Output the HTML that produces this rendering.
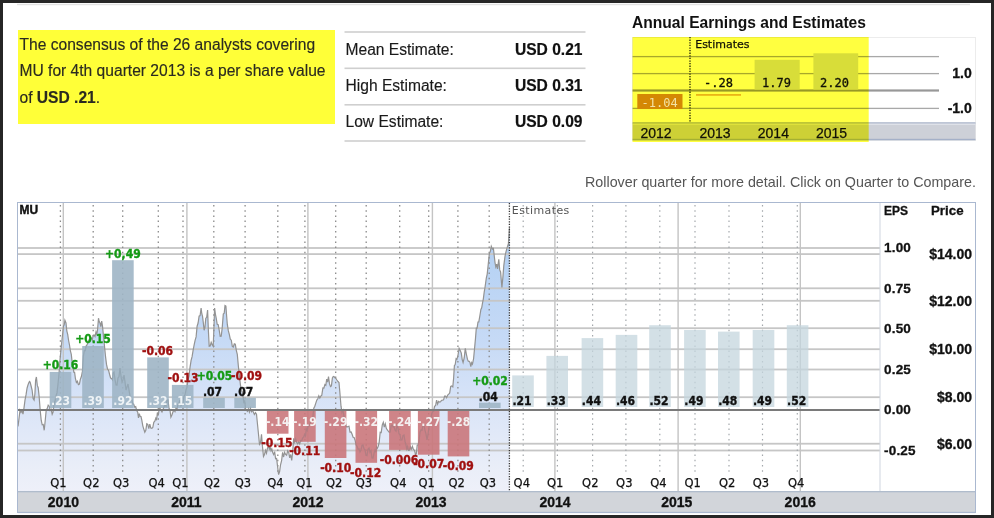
<!DOCTYPE html>
<html><head><meta charset="utf-8"><title>MU Earnings</title>
<style>html,body{margin:0;padding:0;background:#262626;} svg{display:block;}</style></head>
<body><svg width="994" height="518" viewBox="0 0 994 518">
<rect x="0" y="0" width="994" height="518" fill="#262626"/>
<rect x="3" y="3" width="988" height="512" fill="#ffffff"/>
<rect x="17" y="3.8" width="953" height="1.4" fill="#e2e2e2"/>
<rect x="18" y="30" width="317" height="94" fill="#ffff38"/>
<text x="19.5" y="49.8" font-family="'Liberation Sans', sans-serif" font-size="15.6" fill="#2a2a20" stroke="#2a2a20" stroke-width="0.15">The consensus of the 26 analysts covering</text>
<text x="19.5" y="75.5" font-family="'Liberation Sans', sans-serif" font-size="15.6" fill="#2a2a20" stroke="#2a2a20" stroke-width="0.15">MU for 4th quarter 2013 is a per share value</text>
<text x="19.5" y="102.5" font-family="'Liberation Sans', sans-serif" font-size="15.6" fill="#2a2a20" stroke="#2a2a20" stroke-width="0.15">of <tspan font-weight="bold">USD .21</tspan>.</text>
<rect x="344.5" y="31.2" width="241" height="1.6" fill="#cfcfcf"/>
<rect x="344.5" y="67.5" width="241" height="1.6" fill="#cfcfcf"/>
<rect x="344.5" y="104" width="241" height="1.6" fill="#cfcfcf"/>
<rect x="344.5" y="140.2" width="241" height="1.6" fill="#cfcfcf"/>
<text x="345.5" y="55" font-family="'Liberation Sans', sans-serif" font-size="15.6" fill="#1a1a1a" stroke="#1a1a1a" stroke-width="0.15">Mean Estimate:</text>
<text x="582.5" y="55" font-family="'Liberation Sans', sans-serif" font-size="15.6" font-weight="bold" fill="#111" stroke="#111" stroke-width="0.2" text-anchor="end">USD 0.21</text>
<text x="345.5" y="91" font-family="'Liberation Sans', sans-serif" font-size="15.6" fill="#1a1a1a" stroke="#1a1a1a" stroke-width="0.15">High Estimate:</text>
<text x="582.5" y="91" font-family="'Liberation Sans', sans-serif" font-size="15.6" font-weight="bold" fill="#111" stroke="#111" stroke-width="0.2" text-anchor="end">USD 0.31</text>
<text x="345.5" y="127" font-family="'Liberation Sans', sans-serif" font-size="15.6" fill="#1a1a1a" stroke="#1a1a1a" stroke-width="0.15">Low Estimate:</text>
<text x="582.5" y="127" font-family="'Liberation Sans', sans-serif" font-size="15.6" font-weight="bold" fill="#111" stroke="#111" stroke-width="0.2" text-anchor="end">USD 0.09</text>
<text x="632" y="27.6" font-family="'Liberation Sans', sans-serif" font-size="15.6" font-weight="bold" fill="#111" text-anchor="start" >Annual Earnings and Estimates</text>
<rect x="632.5" y="37.5" width="343" height="103" fill="none" stroke="#ececec" stroke-width="1"/>
<rect x="632.5" y="55.95" width="306.5" height="1.3" fill="#a8a8a8"/>
<rect x="632.5" y="72.94999999999999" width="306.5" height="1.3" fill="#a8a8a8"/>
<rect x="632.5" y="89.4" width="306.5" height="2.2" fill="#989898"/>
<rect x="632.5" y="107.75" width="306.5" height="1.3" fill="#a8a8a8"/>
<rect x="754.6" y="59.8" width="45.1" height="29.8" fill="#d8dde2"/>
<rect x="813.4" y="53.3" width="44.8" height="36.3" fill="#d8dde2"/>
<rect x="696" y="94" width="45" height="1.8" fill="#eab458"/>
<rect x="637.3" y="94" width="45.2" height="15" fill="#d4880e"/>
<text x="704" y="87.3" font-family="'DejaVu Sans Mono', monospace" font-size="12" stroke-width="0.3" fill="#111" stroke="#111">-.28</text>
<text x="762" y="86.8" font-family="'DejaVu Sans Mono', monospace" font-size="12" stroke-width="0.3" fill="#111" stroke="#111">1.79</text>
<text x="820" y="86.8" font-family="'DejaVu Sans Mono', monospace" font-size="12" stroke-width="0.3" fill="#111" stroke="#111">2.20</text>
<line x1="690" y1="37" x2="690" y2="122.5" stroke="#222" stroke-width="1.3" stroke-dasharray="1.3 1.3"/>
<text x="695.2" y="48" font-family="'DejaVu Sans', sans-serif" font-size="11" font-weight="normal" fill="#111" text-anchor="start" stroke="#111" stroke-width="0.25">Estimates</text>
<rect x="632.5" y="122.5" width="343" height="17" fill="#cdd0d8"/>
<rect x="632.5" y="122.4" width="343" height="1.2" fill="#a4b0c8"/>
<rect x="632.5" y="123.6" width="343" height="1.3" fill="#e0e3ea"/>
<rect x="632.5" y="138.8" width="343" height="1.5" fill="#a4b0c8"/>
<text x="640.5" y="137.7" font-family="'Liberation Sans', sans-serif" font-size="14" font-weight="normal" fill="#111" text-anchor="start" stroke="#111" stroke-width="0.25">2012</text>
<text x="699.4" y="137.7" font-family="'Liberation Sans', sans-serif" font-size="14" font-weight="normal" fill="#111" text-anchor="start" stroke="#111" stroke-width="0.25">2013</text>
<text x="757.8" y="137.7" font-family="'Liberation Sans', sans-serif" font-size="14" font-weight="normal" fill="#111" text-anchor="start" stroke="#111" stroke-width="0.25">2014</text>
<text x="816" y="137.7" font-family="'Liberation Sans', sans-serif" font-size="14" font-weight="normal" fill="#111" text-anchor="start" stroke="#111" stroke-width="0.25">2015</text>
<text x="971.8" y="78.1" font-family="'Liberation Sans', sans-serif" font-size="14" font-weight="bold" fill="#111" text-anchor="end" stroke="#111" stroke-width="0.3">1.0</text>
<text x="971.8" y="113.2" font-family="'Liberation Sans', sans-serif" font-size="14" font-weight="bold" fill="#111" text-anchor="end" stroke="#111" stroke-width="0.3">-1.0</text>
<rect x="632.5" y="37" width="236.2" height="105" fill="#ffff40" style="mix-blend-mode:multiply"/>
<text x="641.5" y="107.4" font-family="'DejaVu Sans Mono', monospace" font-size="12" stroke-width="0.3" fill="#f2e2a4">-1.04</text>
<text x="585" y="186.8" font-family="'Liberation Sans', sans-serif" font-size="14.3" font-weight="normal" fill="#555" text-anchor="start" >Rollover quarter for more detail. Click on Quarter to Compare.</text>
<defs><linearGradient id="pg" x1="0" y1="226" x2="0" y2="491" gradientUnits="userSpaceOnUse"><stop offset="0" stop-color="#aecbf2"/><stop offset="0.15" stop-color="#b8d3f4"/><stop offset="0.43" stop-color="#c6daf6"/><stop offset="0.77" stop-color="#e0e8f8"/><stop offset="0.92" stop-color="#eaeef8"/><stop offset="1" stop-color="#eef0f9"/></linearGradient></defs>
<polygon points="18,491 18.0,426.3 19.0,418.5 20.0,410.2 21.0,412.4 22.0,410.6 23.0,414.2 24.0,407.8 25.0,400.1 26.1,394.4 27.1,388.0 27.9,385.3 28.7,383.1 29.5,381.5 30.1,382.0 31.1,386.0 32.1,390.0 33.1,398.5 34.1,400.1 34.9,394.0 35.6,380.4 36.4,377.0 37.3,385.4 38.2,387.7 39.1,396.1 40.2,410.4 41.2,420.2 42.2,424.8 43.2,424.5 44.2,430.3 45.2,420.8 46.2,410.2 47.2,408.6 48.2,405.1 49.2,406.2 50.2,410.4 51.2,409.3 52.2,414.2 53.1,412.2 54.0,404.0 55.0,401.3 56.0,396.0 57.0,392.9 58.0,384.0 59.0,373.7 60.0,360.0 61.3,346.3 62.5,335.0 63.5,326.0 64.2,324.9 64.9,320.2 66.0,323.0 66.8,331.0 67.7,334.3 68.6,340.5 69.5,345.0 70.4,350.8 71.3,354.4 72.2,362.8 73.0,366.0 73.8,372.3 74.6,372.4 75.4,378.5 76.4,382.4 77.4,381.3 78.4,384.6 79.4,384.1 80.4,379.2 81.4,376.5 82.4,371.4 83.4,355.9 84.4,350.4 85.3,350.6 86.1,346.1 87.0,345.0 88.0,342.3 89.0,340.0 89.8,340.9 90.7,337.3 91.5,338.3 92.3,339.8 93.2,335.2 94.0,335.0 95.0,336.5 96.0,332.0 96.8,334.7 97.5,330.2 98.5,318.2 99.2,321.5 100.0,323.0 100.8,326.6 101.7,321.2 102.5,326.2 103.5,336.4 104.5,346.3 105.5,356.4 106.5,364.4 107.5,369.0 108.6,370.4 109.6,374.5 110.6,378.1 111.6,378.5 112.4,379.8 113.2,372.7 114.0,372.0 115.0,379.4 116.0,385.0 117.0,385.1 118.0,378.0 119.0,376.6 120.0,368.0 121.0,376.2 122.0,382.0 123.0,379.7 124.0,375.0 125.0,381.9 126.0,390.0 127.0,387.0 128.0,384.0 129.0,390.0 130.0,396.0 130.9,397.5 131.8,398.9 132.8,403.8 133.7,404.1 134.7,407.1 135.7,406.6 136.7,410.5 137.7,412.2 138.5,417.9 139.3,413.7 140.2,416.5 141.0,416.5 141.8,420.2 142.8,425.8 143.8,429.1 144.8,432.3 145.8,430.4 146.8,423.7 147.8,424.3 148.8,428.6 149.8,424.2 150.8,428.1 151.8,428.3 152.8,427.5 153.8,422.3 154.8,421.2 155.8,418.2 156.6,420.2 157.4,412.5 158.3,415.5 159.1,409.2 159.9,408.2 160.9,410.1 162.0,412.0 163.0,409.6 164.0,406.8 165.0,405.0 166.0,406.1 167.0,400.3 168.0,400.0 169.0,408.2 169.9,409.6 170.9,417.2 171.9,415.0 173.0,411.7 174.0,410.2 175.0,411.7 176.0,408.2 177.0,409.1 178.0,404.0 179.0,403.2 180.0,400.0 181.0,405.6 182.0,404.0 183.0,402.3 184.0,396.0 185.0,394.8 186.0,390.0 187.0,387.2 188.0,380.0 189.0,376.1 190.1,366.8 191.1,360.4 192.1,356.7 193.1,350.4 194.1,345.1 195.1,340.3 196.1,336.9 197.1,326.2 198.1,323.0 199.1,316.2 200.1,315.6 201.1,308.1 201.8,313.7 202.5,316.2 203.3,322.6 204.1,330.2 204.9,327.6 205.8,318.2 206.7,317.3 207.6,310.1 208.4,330.9 209.2,346.3 210.2,346.0 211.2,342.3 212.2,344.8 213.2,346.3 213.9,328.6 214.6,308.1 215.4,314.1 216.2,318.2 217.2,324.3 218.2,324.7 219.2,330.2 220.2,336.4 221.2,336.3 222.2,328.0 223.3,314.1 224.2,313.3 225.0,305.5 225.9,306.1 226.6,315.8 227.3,324.2 228.3,330.7 229.3,334.3 230.3,339.2 231.3,340.2 232.3,346.3 233.3,347.0 234.3,343.9 235.3,344.3 236.3,350.3 237.3,354.4 238.4,366.5 239.4,376.0 240.4,384.6 241.3,390.9 242.1,391.1 243.0,396.0 243.8,402.2 244.7,401.1 245.6,409.0 246.4,410.2 247.4,411.4 248.4,408.8 249.4,412.1 250.4,408.2 251.4,411.7 252.4,410.3 253.4,412.2 254.4,414.4 255.5,412.6 256.5,414.2 257.5,424.2 258.5,434.2 259.5,444.4 260.5,443.0 261.5,434.3 262.5,446.9 263.5,456.5 264.5,454.5 265.5,450.4 266.5,453.2 267.5,448.0 268.5,446.4 269.3,449.1 270.1,446.8 271.0,450.7 271.8,448.9 272.6,452.4 273.6,454.4 274.6,451.7 275.6,458.7 276.6,458.5 277.6,466.6 278.6,474.6 279.6,471.6 280.6,464.5 281.6,460.6 282.6,452.4 283.6,457.0 284.6,452.3 285.6,454.4 286.6,455.2 287.7,450.8 288.7,452.4 289.7,457.9 290.7,454.5 291.7,460.5 292.7,451.6 293.7,438.4 294.7,442.3 295.7,439.0 296.7,442.4 297.7,443.9 298.7,442.0 299.7,443.9 300.7,440.4 301.7,440.7 302.7,437.8 303.7,437.0 304.7,434.3 305.5,435.9 306.3,428.8 307.2,430.5 308.0,426.1 308.8,426.3 309.8,424.0 310.8,420.4 311.8,420.2 312.8,417.3 313.8,408.2 314.8,406.2 315.8,403.1 316.8,400.1 317.8,398.8 318.8,395.9 319.8,398.0 320.8,396.1 321.8,395.1 322.9,387.9 323.9,388.0 324.9,384.6 325.8,385.3 326.7,379.1 327.6,382.2 328.5,376.5 329.5,383.9 330.5,386.6 331.4,385.9 332.4,377.9 333.3,376.5 334.2,376.7 335.0,377.9 335.9,378.5 336.9,380.0 338.0,381.5 339.0,382.6 340.0,394.0 341.0,406.2 342.0,412.4 343.0,410.2 344.0,416.3 345.0,418.2 346.0,426.3 347.0,427.0 348.0,426.5 349.0,426.3 350.0,432.0 351.1,431.9 352.1,434.3 353.1,437.2 354.1,437.5 355.1,440.4 356.1,445.1 357.1,446.4 358.1,449.3 359.0,448.9 360.0,452.0 361.0,450.1 362.0,445.3 363.0,445.0 364.0,448.8 365.0,449.8 366.0,455.0 367.0,455.5 368.0,449.2 369.0,448.0 370.0,452.3 371.0,450.7 372.0,458.0 373.0,458.1 374.0,453.1 375.0,450.0 375.8,452.2 376.6,446.8 377.4,448.2 378.2,446.4 379.2,442.1 380.2,432.3 381.2,432.5 382.3,424.9 383.3,422.3 384.3,427.1 385.3,423.8 386.3,428.3 387.3,430.0 388.3,431.2 389.3,432.3 390.2,432.1 391.1,425.9 392.0,425.0 393.0,426.9 394.0,426.6 395.0,430.0 396.0,431.2 397.0,425.2 398.0,428.0 399.0,433.6 400.0,434.6 401.0,440.0 402.0,439.8 403.0,435.7 404.0,435.0 405.0,441.4 406.0,445.0 406.8,449.0 407.6,446.5 408.4,450.4 409.4,450.2 410.4,446.8 411.4,449.2 412.4,446.4 413.4,449.5 414.5,450.4 415.5,454.4 416.3,454.0 417.2,445.3 418.0,445.0 419.0,441.7 420.0,432.2 421.0,430.0 422.0,430.2 423.0,425.0 424.0,425.0 425.0,430.4 426.0,433.9 427.0,440.0 428.0,434.3 429.0,427.0 430.0,420.0 430.8,418.6 431.7,413.9 432.5,412.0 433.6,410.9 434.6,406.2 435.6,405.7 436.6,400.1 437.6,404.1 438.6,401.5 439.6,402.1 440.6,401.7 441.6,400.2 442.6,400.1 443.6,399.8 444.6,396.1 445.6,396.1 446.6,397.7 447.7,395.0 448.7,394.1 449.7,392.9 450.7,386.5 451.7,386.0 452.8,386.9 453.6,378.4 454.4,365.6 455.2,364.6 456.1,358.7 456.9,359.4 458.0,355.1 459.1,348.4 460.2,350.6 461.3,353.1 462.2,359.6 463.1,362.5 464.2,358.0 465.3,348.4 466.4,354.3 467.5,359.4 468.3,361.3 469.2,361.4 470.0,362.5 470.8,366.7 471.7,362.7 472.5,364.1 473.6,358.5 474.7,346.9 475.5,338.4 476.3,328.1 477.1,328.2 478.0,322.0 478.8,321.9 479.9,315.5 480.9,309.4 481.7,307.9 482.5,303.1 483.3,299.1 484.2,292.2 485.0,287.5 486.3,278.1 487.2,274.1 488.1,265.6 489.4,253.1 490.4,251.2 491.3,246.3 492.4,248.9 493.4,248.4 494.2,255.4 495.0,262.5 495.8,266.8 496.7,264.1 497.5,268.8 498.8,259.4 499.7,269.9 500.6,271.9 501.9,287.5 502.9,277.1 503.8,265.6 505.0,256.3 505.9,252.1 506.9,248.4 507.6,246.2 508.4,243.8 509.5,226.6 509.5,491" fill="url(#pg)"/>
<rect x="18" y="247.1" width="862" height="1.8" fill="#c6c6c6"/>
<rect x="18" y="287.40000000000003" width="862" height="1.8" fill="#c6c6c6"/>
<rect x="18" y="327.3" width="862" height="1.8" fill="#c6c6c6"/>
<rect x="18" y="368.6" width="862" height="1.8" fill="#c6c6c6"/>
<rect x="18" y="449.6" width="862" height="1.8" fill="#c6c6c6"/>
<rect x="18" y="253.2" width="862" height="1.8" fill="#c6c6c6"/>
<rect x="18" y="299.90000000000003" width="862" height="1.8" fill="#c6c6c6"/>
<rect x="18" y="348.3" width="862" height="1.8" fill="#c6c6c6"/>
<rect x="18" y="396.3" width="862" height="1.8" fill="#c6c6c6"/>
<rect x="18" y="442.8" width="862" height="1.8" fill="#c6c6c6"/>
<rect x="62.599999999999994" y="203" width="1.4" height="288" fill="#c4c4c4"/>
<rect x="186.20000000000002" y="203" width="1.4" height="288" fill="#c4c4c4"/>
<rect x="307.2" y="203" width="1.4" height="288" fill="#c4c4c4"/>
<rect x="431.7" y="203" width="1.4" height="288" fill="#c4c4c4"/>
<rect x="554.1999999999999" y="203" width="1.4" height="288" fill="#c4c4c4"/>
<rect x="677.4" y="203" width="1.4" height="288" fill="#c4c4c4"/>
<rect x="799.5999999999999" y="203" width="1.4" height="288" fill="#c4c4c4"/>
<line x1="60.4" y1="205" x2="60.4" y2="472" stroke="#8a8a8a" stroke-width="1.3" stroke-dasharray="1.5 3.7"/>
<line x1="93.2" y1="205" x2="93.2" y2="472" stroke="#8a8a8a" stroke-width="1.3" stroke-dasharray="1.5 3.7"/>
<line x1="122.7" y1="205" x2="122.7" y2="472" stroke="#8a8a8a" stroke-width="1.3" stroke-dasharray="1.5 3.7"/>
<line x1="158.3" y1="205" x2="158.3" y2="472" stroke="#8a8a8a" stroke-width="1.3" stroke-dasharray="1.5 3.7"/>
<line x1="183" y1="205" x2="183" y2="472" stroke="#8a8a8a" stroke-width="1.3" stroke-dasharray="1.5 3.7"/>
<line x1="213.8" y1="205" x2="213.8" y2="472" stroke="#8a8a8a" stroke-width="1.3" stroke-dasharray="1.5 3.7"/>
<line x1="245.1" y1="205" x2="245.1" y2="472" stroke="#8a8a8a" stroke-width="1.3" stroke-dasharray="1.5 3.7"/>
<line x1="277.8" y1="205" x2="277.8" y2="472" stroke="#8a8a8a" stroke-width="1.3" stroke-dasharray="1.5 3.7"/>
<line x1="304.9" y1="205" x2="304.9" y2="472" stroke="#8a8a8a" stroke-width="1.3" stroke-dasharray="1.5 3.7"/>
<line x1="335.7" y1="205" x2="335.7" y2="472" stroke="#8a8a8a" stroke-width="1.3" stroke-dasharray="1.5 3.7"/>
<line x1="366.2" y1="205" x2="366.2" y2="472" stroke="#8a8a8a" stroke-width="1.3" stroke-dasharray="1.5 3.7"/>
<line x1="399.7" y1="205" x2="399.7" y2="472" stroke="#8a8a8a" stroke-width="1.3" stroke-dasharray="1.5 3.7"/>
<line x1="428.7" y1="205" x2="428.7" y2="472" stroke="#8a8a8a" stroke-width="1.3" stroke-dasharray="1.5 3.7"/>
<line x1="457.9" y1="205" x2="457.9" y2="472" stroke="#8a8a8a" stroke-width="1.3" stroke-dasharray="1.5 3.7"/>
<line x1="489.2" y1="205" x2="489.2" y2="472" stroke="#8a8a8a" stroke-width="1.3" stroke-dasharray="1.5 3.7"/>
<line x1="523.2" y1="205" x2="523.2" y2="472" stroke="#a4a8ac" stroke-width="1.2" stroke-dasharray="1.5 3.7"/>
<line x1="557.4" y1="205" x2="557.4" y2="472" stroke="#a4a8ac" stroke-width="1.2" stroke-dasharray="1.5 3.7"/>
<line x1="592.6" y1="205" x2="592.6" y2="472" stroke="#a4a8ac" stroke-width="1.2" stroke-dasharray="1.5 3.7"/>
<line x1="625.9" y1="205" x2="625.9" y2="472" stroke="#a4a8ac" stroke-width="1.2" stroke-dasharray="1.5 3.7"/>
<line x1="659.8" y1="205" x2="659.8" y2="472" stroke="#a4a8ac" stroke-width="1.2" stroke-dasharray="1.5 3.7"/>
<line x1="695" y1="205" x2="695" y2="472" stroke="#a4a8ac" stroke-width="1.2" stroke-dasharray="1.5 3.7"/>
<line x1="729" y1="205" x2="729" y2="472" stroke="#a4a8ac" stroke-width="1.2" stroke-dasharray="1.5 3.7"/>
<line x1="762.5" y1="205" x2="762.5" y2="472" stroke="#a4a8ac" stroke-width="1.2" stroke-dasharray="1.5 3.7"/>
<line x1="797.3" y1="205" x2="797.3" y2="472" stroke="#a4a8ac" stroke-width="1.2" stroke-dasharray="1.5 3.7"/>
<polyline points="18.0,426.3 19.0,418.5 20.0,410.2 21.0,412.4 22.0,410.6 23.0,414.2 24.0,407.8 25.0,400.1 26.1,394.4 27.1,388.0 27.9,385.3 28.7,383.1 29.5,381.5 30.1,382.0 31.1,386.0 32.1,390.0 33.1,398.5 34.1,400.1 34.9,394.0 35.6,380.4 36.4,377.0 37.3,385.4 38.2,387.7 39.1,396.1 40.2,410.4 41.2,420.2 42.2,424.8 43.2,424.5 44.2,430.3 45.2,420.8 46.2,410.2 47.2,408.6 48.2,405.1 49.2,406.2 50.2,410.4 51.2,409.3 52.2,414.2 53.1,412.2 54.0,404.0 55.0,401.3 56.0,396.0 57.0,392.9 58.0,384.0 59.0,373.7 60.0,360.0 61.3,346.3 62.5,335.0 63.5,326.0 64.2,324.9 64.9,320.2 66.0,323.0 66.8,331.0 67.7,334.3 68.6,340.5 69.5,345.0 70.4,350.8 71.3,354.4 72.2,362.8 73.0,366.0 73.8,372.3 74.6,372.4 75.4,378.5 76.4,382.4 77.4,381.3 78.4,384.6 79.4,384.1 80.4,379.2 81.4,376.5 82.4,371.4 83.4,355.9 84.4,350.4 85.3,350.6 86.1,346.1 87.0,345.0 88.0,342.3 89.0,340.0 89.8,340.9 90.7,337.3 91.5,338.3 92.3,339.8 93.2,335.2 94.0,335.0 95.0,336.5 96.0,332.0 96.8,334.7 97.5,330.2 98.5,318.2 99.2,321.5 100.0,323.0 100.8,326.6 101.7,321.2 102.5,326.2 103.5,336.4 104.5,346.3 105.5,356.4 106.5,364.4 107.5,369.0 108.6,370.4 109.6,374.5 110.6,378.1 111.6,378.5 112.4,379.8 113.2,372.7 114.0,372.0 115.0,379.4 116.0,385.0 117.0,385.1 118.0,378.0 119.0,376.6 120.0,368.0 121.0,376.2 122.0,382.0 123.0,379.7 124.0,375.0 125.0,381.9 126.0,390.0 127.0,387.0 128.0,384.0 129.0,390.0 130.0,396.0 130.9,397.5 131.8,398.9 132.8,403.8 133.7,404.1 134.7,407.1 135.7,406.6 136.7,410.5 137.7,412.2 138.5,417.9 139.3,413.7 140.2,416.5 141.0,416.5 141.8,420.2 142.8,425.8 143.8,429.1 144.8,432.3 145.8,430.4 146.8,423.7 147.8,424.3 148.8,428.6 149.8,424.2 150.8,428.1 151.8,428.3 152.8,427.5 153.8,422.3 154.8,421.2 155.8,418.2 156.6,420.2 157.4,412.5 158.3,415.5 159.1,409.2 159.9,408.2 160.9,410.1 162.0,412.0 163.0,409.6 164.0,406.8 165.0,405.0 166.0,406.1 167.0,400.3 168.0,400.0 169.0,408.2 169.9,409.6 170.9,417.2 171.9,415.0 173.0,411.7 174.0,410.2 175.0,411.7 176.0,408.2 177.0,409.1 178.0,404.0 179.0,403.2 180.0,400.0 181.0,405.6 182.0,404.0 183.0,402.3 184.0,396.0 185.0,394.8 186.0,390.0 187.0,387.2 188.0,380.0 189.0,376.1 190.1,366.8 191.1,360.4 192.1,356.7 193.1,350.4 194.1,345.1 195.1,340.3 196.1,336.9 197.1,326.2 198.1,323.0 199.1,316.2 200.1,315.6 201.1,308.1 201.8,313.7 202.5,316.2 203.3,322.6 204.1,330.2 204.9,327.6 205.8,318.2 206.7,317.3 207.6,310.1 208.4,330.9 209.2,346.3 210.2,346.0 211.2,342.3 212.2,344.8 213.2,346.3 213.9,328.6 214.6,308.1 215.4,314.1 216.2,318.2 217.2,324.3 218.2,324.7 219.2,330.2 220.2,336.4 221.2,336.3 222.2,328.0 223.3,314.1 224.2,313.3 225.0,305.5 225.9,306.1 226.6,315.8 227.3,324.2 228.3,330.7 229.3,334.3 230.3,339.2 231.3,340.2 232.3,346.3 233.3,347.0 234.3,343.9 235.3,344.3 236.3,350.3 237.3,354.4 238.4,366.5 239.4,376.0 240.4,384.6 241.3,390.9 242.1,391.1 243.0,396.0 243.8,402.2 244.7,401.1 245.6,409.0 246.4,410.2 247.4,411.4 248.4,408.8 249.4,412.1 250.4,408.2 251.4,411.7 252.4,410.3 253.4,412.2 254.4,414.4 255.5,412.6 256.5,414.2 257.5,424.2 258.5,434.2 259.5,444.4 260.5,443.0 261.5,434.3 262.5,446.9 263.5,456.5 264.5,454.5 265.5,450.4 266.5,453.2 267.5,448.0 268.5,446.4 269.3,449.1 270.1,446.8 271.0,450.7 271.8,448.9 272.6,452.4 273.6,454.4 274.6,451.7 275.6,458.7 276.6,458.5 277.6,466.6 278.6,474.6 279.6,471.6 280.6,464.5 281.6,460.6 282.6,452.4 283.6,457.0 284.6,452.3 285.6,454.4 286.6,455.2 287.7,450.8 288.7,452.4 289.7,457.9 290.7,454.5 291.7,460.5 292.7,451.6 293.7,438.4 294.7,442.3 295.7,439.0 296.7,442.4 297.7,443.9 298.7,442.0 299.7,443.9 300.7,440.4 301.7,440.7 302.7,437.8 303.7,437.0 304.7,434.3 305.5,435.9 306.3,428.8 307.2,430.5 308.0,426.1 308.8,426.3 309.8,424.0 310.8,420.4 311.8,420.2 312.8,417.3 313.8,408.2 314.8,406.2 315.8,403.1 316.8,400.1 317.8,398.8 318.8,395.9 319.8,398.0 320.8,396.1 321.8,395.1 322.9,387.9 323.9,388.0 324.9,384.6 325.8,385.3 326.7,379.1 327.6,382.2 328.5,376.5 329.5,383.9 330.5,386.6 331.4,385.9 332.4,377.9 333.3,376.5 334.2,376.7 335.0,377.9 335.9,378.5 336.9,380.0 338.0,381.5 339.0,382.6 340.0,394.0 341.0,406.2 342.0,412.4 343.0,410.2 344.0,416.3 345.0,418.2 346.0,426.3 347.0,427.0 348.0,426.5 349.0,426.3 350.0,432.0 351.1,431.9 352.1,434.3 353.1,437.2 354.1,437.5 355.1,440.4 356.1,445.1 357.1,446.4 358.1,449.3 359.0,448.9 360.0,452.0 361.0,450.1 362.0,445.3 363.0,445.0 364.0,448.8 365.0,449.8 366.0,455.0 367.0,455.5 368.0,449.2 369.0,448.0 370.0,452.3 371.0,450.7 372.0,458.0 373.0,458.1 374.0,453.1 375.0,450.0 375.8,452.2 376.6,446.8 377.4,448.2 378.2,446.4 379.2,442.1 380.2,432.3 381.2,432.5 382.3,424.9 383.3,422.3 384.3,427.1 385.3,423.8 386.3,428.3 387.3,430.0 388.3,431.2 389.3,432.3 390.2,432.1 391.1,425.9 392.0,425.0 393.0,426.9 394.0,426.6 395.0,430.0 396.0,431.2 397.0,425.2 398.0,428.0 399.0,433.6 400.0,434.6 401.0,440.0 402.0,439.8 403.0,435.7 404.0,435.0 405.0,441.4 406.0,445.0 406.8,449.0 407.6,446.5 408.4,450.4 409.4,450.2 410.4,446.8 411.4,449.2 412.4,446.4 413.4,449.5 414.5,450.4 415.5,454.4 416.3,454.0 417.2,445.3 418.0,445.0 419.0,441.7 420.0,432.2 421.0,430.0 422.0,430.2 423.0,425.0 424.0,425.0 425.0,430.4 426.0,433.9 427.0,440.0 428.0,434.3 429.0,427.0 430.0,420.0 430.8,418.6 431.7,413.9 432.5,412.0 433.6,410.9 434.6,406.2 435.6,405.7 436.6,400.1 437.6,404.1 438.6,401.5 439.6,402.1 440.6,401.7 441.6,400.2 442.6,400.1 443.6,399.8 444.6,396.1 445.6,396.1 446.6,397.7 447.7,395.0 448.7,394.1 449.7,392.9 450.7,386.5 451.7,386.0 452.8,386.9 453.6,378.4 454.4,365.6 455.2,364.6 456.1,358.7 456.9,359.4 458.0,355.1 459.1,348.4 460.2,350.6 461.3,353.1 462.2,359.6 463.1,362.5 464.2,358.0 465.3,348.4 466.4,354.3 467.5,359.4 468.3,361.3 469.2,361.4 470.0,362.5 470.8,366.7 471.7,362.7 472.5,364.1 473.6,358.5 474.7,346.9 475.5,338.4 476.3,328.1 477.1,328.2 478.0,322.0 478.8,321.9 479.9,315.5 480.9,309.4 481.7,307.9 482.5,303.1 483.3,299.1 484.2,292.2 485.0,287.5 486.3,278.1 487.2,274.1 488.1,265.6 489.4,253.1 490.4,251.2 491.3,246.3 492.4,248.9 493.4,248.4 494.2,255.4 495.0,262.5 495.8,266.8 496.7,264.1 497.5,268.8 498.8,259.4 499.7,269.9 500.6,271.9 501.9,287.5 502.9,277.1 503.8,265.6 505.0,256.3 505.9,252.1 506.9,248.4 507.6,246.2 508.4,243.8 509.5,226.6" fill="none" stroke="#939393" stroke-width="1.2" stroke-linejoin="miter"/>
<rect x="49.7" y="371.9" width="21.6" height="36.1" fill="rgb(158,181,197)" fill-opacity="0.9"/>
<rect x="82.2" y="346.0" width="21.6" height="62.0" fill="rgb(158,181,197)" fill-opacity="0.9"/>
<rect x="112.1" y="260.2" width="21.6" height="147.8" fill="rgb(158,181,197)" fill-opacity="0.9"/>
<rect x="147.2" y="357.4" width="21.6" height="50.6" fill="rgb(158,181,197)" fill-opacity="0.9"/>
<rect x="171.9" y="384.9" width="21.6" height="23.1" fill="rgb(158,181,197)" fill-opacity="0.9"/>
<rect x="203.2" y="397.9" width="21.6" height="10.1" fill="rgb(158,181,197)" fill-opacity="0.9"/>
<rect x="234.3" y="397.9" width="21.6" height="10.1" fill="rgb(158,181,197)" fill-opacity="0.9"/>
<rect x="266.9" y="410.8" width="21.6" height="22.9" fill="rgb(202,119,123)" fill-opacity="0.9"/>
<rect x="294.1" y="410.8" width="21.6" height="31.0" fill="rgb(202,119,123)" fill-opacity="0.9"/>
<rect x="324.8" y="410.8" width="21.6" height="47.2" fill="rgb(202,119,123)" fill-opacity="0.9"/>
<rect x="355.5" y="410.8" width="21.6" height="52.0" fill="rgb(202,119,123)" fill-opacity="0.9"/>
<rect x="389.1" y="410.8" width="21.6" height="39.1" fill="rgb(202,119,123)" fill-opacity="0.9"/>
<rect x="417.9" y="410.8" width="21.6" height="43.9" fill="rgb(202,119,123)" fill-opacity="0.9"/>
<rect x="447.7" y="410.8" width="21.6" height="45.6" fill="rgb(202,119,123)" fill-opacity="0.9"/>
<rect x="479.0" y="402.7" width="21.6" height="5.3" fill="rgb(158,181,197)" fill-opacity="0.9"/>
<rect x="512.2" y="375.4" width="21.6" height="31.6" fill="rgb(196,214,222)" fill-opacity="0.75"/>
<rect x="546.4" y="355.9" width="21.6" height="51.1" fill="rgb(196,214,222)" fill-opacity="0.75"/>
<rect x="581.6" y="338.1" width="21.6" height="68.9" fill="rgb(196,214,222)" fill-opacity="0.75"/>
<rect x="615.7" y="334.9" width="21.6" height="72.1" fill="rgb(196,214,222)" fill-opacity="0.75"/>
<rect x="649.2" y="325.2" width="21.6" height="81.8" fill="rgb(196,214,222)" fill-opacity="0.75"/>
<rect x="684.1" y="330.0" width="21.6" height="77.0" fill="rgb(196,214,222)" fill-opacity="0.75"/>
<rect x="718.0" y="331.6" width="21.6" height="75.4" fill="rgb(196,214,222)" fill-opacity="0.75"/>
<rect x="752.7" y="330.0" width="21.6" height="77.0" fill="rgb(196,214,222)" fill-opacity="0.75"/>
<rect x="786.8" y="325.2" width="21.6" height="81.8" fill="rgb(196,214,222)" fill-opacity="0.75"/>
<clipPath id="bc"><rect x="49.7" y="371.9" width="21.6" height="36.1"/><rect x="82.2" y="346.0" width="21.6" height="62.0"/><rect x="112.1" y="260.2" width="21.6" height="147.8"/><rect x="147.2" y="357.4" width="21.6" height="50.6"/><rect x="171.9" y="384.9" width="21.6" height="23.1"/><rect x="203.2" y="397.9" width="21.6" height="10.1"/><rect x="234.3" y="397.9" width="21.6" height="10.1"/><rect x="266.9" y="410.8" width="21.6" height="22.9"/><rect x="294.1" y="410.8" width="21.6" height="31.0"/><rect x="324.8" y="410.8" width="21.6" height="47.2"/><rect x="355.5" y="410.8" width="21.6" height="52.0"/><rect x="389.1" y="410.8" width="21.6" height="39.1"/><rect x="417.9" y="410.8" width="21.6" height="43.9"/><rect x="447.7" y="410.8" width="21.6" height="45.6"/><rect x="479.0" y="402.7" width="21.6" height="5.3"/></clipPath>
<polyline points="18.0,426.3 19.0,418.5 20.0,410.2 21.0,412.4 22.0,410.6 23.0,414.2 24.0,407.8 25.0,400.1 26.1,394.4 27.1,388.0 27.9,385.3 28.7,383.1 29.5,381.5 30.1,382.0 31.1,386.0 32.1,390.0 33.1,398.5 34.1,400.1 34.9,394.0 35.6,380.4 36.4,377.0 37.3,385.4 38.2,387.7 39.1,396.1 40.2,410.4 41.2,420.2 42.2,424.8 43.2,424.5 44.2,430.3 45.2,420.8 46.2,410.2 47.2,408.6 48.2,405.1 49.2,406.2 50.2,410.4 51.2,409.3 52.2,414.2 53.1,412.2 54.0,404.0 55.0,401.3 56.0,396.0 57.0,392.9 58.0,384.0 59.0,373.7 60.0,360.0 61.3,346.3 62.5,335.0 63.5,326.0 64.2,324.9 64.9,320.2 66.0,323.0 66.8,331.0 67.7,334.3 68.6,340.5 69.5,345.0 70.4,350.8 71.3,354.4 72.2,362.8 73.0,366.0 73.8,372.3 74.6,372.4 75.4,378.5 76.4,382.4 77.4,381.3 78.4,384.6 79.4,384.1 80.4,379.2 81.4,376.5 82.4,371.4 83.4,355.9 84.4,350.4 85.3,350.6 86.1,346.1 87.0,345.0 88.0,342.3 89.0,340.0 89.8,340.9 90.7,337.3 91.5,338.3 92.3,339.8 93.2,335.2 94.0,335.0 95.0,336.5 96.0,332.0 96.8,334.7 97.5,330.2 98.5,318.2 99.2,321.5 100.0,323.0 100.8,326.6 101.7,321.2 102.5,326.2 103.5,336.4 104.5,346.3 105.5,356.4 106.5,364.4 107.5,369.0 108.6,370.4 109.6,374.5 110.6,378.1 111.6,378.5 112.4,379.8 113.2,372.7 114.0,372.0 115.0,379.4 116.0,385.0 117.0,385.1 118.0,378.0 119.0,376.6 120.0,368.0 121.0,376.2 122.0,382.0 123.0,379.7 124.0,375.0 125.0,381.9 126.0,390.0 127.0,387.0 128.0,384.0 129.0,390.0 130.0,396.0 130.9,397.5 131.8,398.9 132.8,403.8 133.7,404.1 134.7,407.1 135.7,406.6 136.7,410.5 137.7,412.2 138.5,417.9 139.3,413.7 140.2,416.5 141.0,416.5 141.8,420.2 142.8,425.8 143.8,429.1 144.8,432.3 145.8,430.4 146.8,423.7 147.8,424.3 148.8,428.6 149.8,424.2 150.8,428.1 151.8,428.3 152.8,427.5 153.8,422.3 154.8,421.2 155.8,418.2 156.6,420.2 157.4,412.5 158.3,415.5 159.1,409.2 159.9,408.2 160.9,410.1 162.0,412.0 163.0,409.6 164.0,406.8 165.0,405.0 166.0,406.1 167.0,400.3 168.0,400.0 169.0,408.2 169.9,409.6 170.9,417.2 171.9,415.0 173.0,411.7 174.0,410.2 175.0,411.7 176.0,408.2 177.0,409.1 178.0,404.0 179.0,403.2 180.0,400.0 181.0,405.6 182.0,404.0 183.0,402.3 184.0,396.0 185.0,394.8 186.0,390.0 187.0,387.2 188.0,380.0 189.0,376.1 190.1,366.8 191.1,360.4 192.1,356.7 193.1,350.4 194.1,345.1 195.1,340.3 196.1,336.9 197.1,326.2 198.1,323.0 199.1,316.2 200.1,315.6 201.1,308.1 201.8,313.7 202.5,316.2 203.3,322.6 204.1,330.2 204.9,327.6 205.8,318.2 206.7,317.3 207.6,310.1 208.4,330.9 209.2,346.3 210.2,346.0 211.2,342.3 212.2,344.8 213.2,346.3 213.9,328.6 214.6,308.1 215.4,314.1 216.2,318.2 217.2,324.3 218.2,324.7 219.2,330.2 220.2,336.4 221.2,336.3 222.2,328.0 223.3,314.1 224.2,313.3 225.0,305.5 225.9,306.1 226.6,315.8 227.3,324.2 228.3,330.7 229.3,334.3 230.3,339.2 231.3,340.2 232.3,346.3 233.3,347.0 234.3,343.9 235.3,344.3 236.3,350.3 237.3,354.4 238.4,366.5 239.4,376.0 240.4,384.6 241.3,390.9 242.1,391.1 243.0,396.0 243.8,402.2 244.7,401.1 245.6,409.0 246.4,410.2 247.4,411.4 248.4,408.8 249.4,412.1 250.4,408.2 251.4,411.7 252.4,410.3 253.4,412.2 254.4,414.4 255.5,412.6 256.5,414.2 257.5,424.2 258.5,434.2 259.5,444.4 260.5,443.0 261.5,434.3 262.5,446.9 263.5,456.5 264.5,454.5 265.5,450.4 266.5,453.2 267.5,448.0 268.5,446.4 269.3,449.1 270.1,446.8 271.0,450.7 271.8,448.9 272.6,452.4 273.6,454.4 274.6,451.7 275.6,458.7 276.6,458.5 277.6,466.6 278.6,474.6 279.6,471.6 280.6,464.5 281.6,460.6 282.6,452.4 283.6,457.0 284.6,452.3 285.6,454.4 286.6,455.2 287.7,450.8 288.7,452.4 289.7,457.9 290.7,454.5 291.7,460.5 292.7,451.6 293.7,438.4 294.7,442.3 295.7,439.0 296.7,442.4 297.7,443.9 298.7,442.0 299.7,443.9 300.7,440.4 301.7,440.7 302.7,437.8 303.7,437.0 304.7,434.3 305.5,435.9 306.3,428.8 307.2,430.5 308.0,426.1 308.8,426.3 309.8,424.0 310.8,420.4 311.8,420.2 312.8,417.3 313.8,408.2 314.8,406.2 315.8,403.1 316.8,400.1 317.8,398.8 318.8,395.9 319.8,398.0 320.8,396.1 321.8,395.1 322.9,387.9 323.9,388.0 324.9,384.6 325.8,385.3 326.7,379.1 327.6,382.2 328.5,376.5 329.5,383.9 330.5,386.6 331.4,385.9 332.4,377.9 333.3,376.5 334.2,376.7 335.0,377.9 335.9,378.5 336.9,380.0 338.0,381.5 339.0,382.6 340.0,394.0 341.0,406.2 342.0,412.4 343.0,410.2 344.0,416.3 345.0,418.2 346.0,426.3 347.0,427.0 348.0,426.5 349.0,426.3 350.0,432.0 351.1,431.9 352.1,434.3 353.1,437.2 354.1,437.5 355.1,440.4 356.1,445.1 357.1,446.4 358.1,449.3 359.0,448.9 360.0,452.0 361.0,450.1 362.0,445.3 363.0,445.0 364.0,448.8 365.0,449.8 366.0,455.0 367.0,455.5 368.0,449.2 369.0,448.0 370.0,452.3 371.0,450.7 372.0,458.0 373.0,458.1 374.0,453.1 375.0,450.0 375.8,452.2 376.6,446.8 377.4,448.2 378.2,446.4 379.2,442.1 380.2,432.3 381.2,432.5 382.3,424.9 383.3,422.3 384.3,427.1 385.3,423.8 386.3,428.3 387.3,430.0 388.3,431.2 389.3,432.3 390.2,432.1 391.1,425.9 392.0,425.0 393.0,426.9 394.0,426.6 395.0,430.0 396.0,431.2 397.0,425.2 398.0,428.0 399.0,433.6 400.0,434.6 401.0,440.0 402.0,439.8 403.0,435.7 404.0,435.0 405.0,441.4 406.0,445.0 406.8,449.0 407.6,446.5 408.4,450.4 409.4,450.2 410.4,446.8 411.4,449.2 412.4,446.4 413.4,449.5 414.5,450.4 415.5,454.4 416.3,454.0 417.2,445.3 418.0,445.0 419.0,441.7 420.0,432.2 421.0,430.0 422.0,430.2 423.0,425.0 424.0,425.0 425.0,430.4 426.0,433.9 427.0,440.0 428.0,434.3 429.0,427.0 430.0,420.0 430.8,418.6 431.7,413.9 432.5,412.0 433.6,410.9 434.6,406.2 435.6,405.7 436.6,400.1 437.6,404.1 438.6,401.5 439.6,402.1 440.6,401.7 441.6,400.2 442.6,400.1 443.6,399.8 444.6,396.1 445.6,396.1 446.6,397.7 447.7,395.0 448.7,394.1 449.7,392.9 450.7,386.5 451.7,386.0 452.8,386.9 453.6,378.4 454.4,365.6 455.2,364.6 456.1,358.7 456.9,359.4 458.0,355.1 459.1,348.4 460.2,350.6 461.3,353.1 462.2,359.6 463.1,362.5 464.2,358.0 465.3,348.4 466.4,354.3 467.5,359.4 468.3,361.3 469.2,361.4 470.0,362.5 470.8,366.7 471.7,362.7 472.5,364.1 473.6,358.5 474.7,346.9 475.5,338.4 476.3,328.1 477.1,328.2 478.0,322.0 478.8,321.9 479.9,315.5 480.9,309.4 481.7,307.9 482.5,303.1 483.3,299.1 484.2,292.2 485.0,287.5 486.3,278.1 487.2,274.1 488.1,265.6 489.4,253.1 490.4,251.2 491.3,246.3 492.4,248.9 493.4,248.4 494.2,255.4 495.0,262.5 495.8,266.8 496.7,264.1 497.5,268.8 498.8,259.4 499.7,269.9 500.6,271.9 501.9,287.5 502.9,277.1 503.8,265.6 505.0,256.3 505.9,252.1 506.9,248.4 507.6,246.2 508.4,243.8 509.5,226.6" fill="none" stroke="#7d8a94" stroke-opacity="0.25" stroke-width="1.2" clip-path="url(#bc)"/>
<rect x="18" y="409" width="862" height="2" fill="#7a7a7a"/>
<line x1="509.4" y1="203" x2="509.4" y2="491" stroke="#333" stroke-width="1.3" stroke-dasharray="1.2 1.4"/>
<text x="511.8" y="214.3" font-family="'DejaVu Sans', sans-serif" font-size="11" font-weight="normal" fill="#555" text-anchor="start" letter-spacing="0.4">Estimates</text>
<text x="19.5" y="214.4" font-family="'Liberation Sans', sans-serif" font-size="12" font-weight="bold" fill="#111" text-anchor="start" stroke="#111" stroke-width="0.4">MU</text>
<text x="60.5" y="404.5" font-family="'DejaVu Sans Condensed', sans-serif" font-size="12" font-weight="bold" fill="#eef3f6" text-anchor="middle" >.23</text>
<text x="93" y="404.5" font-family="'DejaVu Sans Condensed', sans-serif" font-size="12" font-weight="bold" fill="#eef3f6" text-anchor="middle" >.39</text>
<text x="122.9" y="404.5" font-family="'DejaVu Sans Condensed', sans-serif" font-size="12" font-weight="bold" fill="#eef3f6" text-anchor="middle" >.92</text>
<text x="158" y="404.5" font-family="'DejaVu Sans Condensed', sans-serif" font-size="12" font-weight="bold" fill="#eef3f6" text-anchor="middle" >.32</text>
<text x="182.7" y="404.5" font-family="'DejaVu Sans Condensed', sans-serif" font-size="12" font-weight="bold" fill="#eef3f6" text-anchor="middle" >.15</text>
<text x="212.5" y="395.66" font-family="'DejaVu Sans Condensed', sans-serif" font-size="12" font-weight="bold" fill="#111" text-anchor="middle" stroke="#111" stroke-width="0.35">.07</text>
<text x="243.6" y="395.66" font-family="'DejaVu Sans Condensed', sans-serif" font-size="12" font-weight="bold" fill="#111" text-anchor="middle" stroke="#111" stroke-width="0.35">.07</text>
<text x="277.7" y="425.5" font-family="'DejaVu Sans Condensed', sans-serif" font-size="12" font-weight="bold" fill="#f4f0f0" text-anchor="middle" >-.14</text>
<text x="304.9" y="425.5" font-family="'DejaVu Sans Condensed', sans-serif" font-size="12" font-weight="bold" fill="#f4f0f0" text-anchor="middle" >-.19</text>
<text x="335.6" y="425.5" font-family="'DejaVu Sans Condensed', sans-serif" font-size="12" font-weight="bold" fill="#f4f0f0" text-anchor="middle" >-.29</text>
<text x="366.3" y="425.5" font-family="'DejaVu Sans Condensed', sans-serif" font-size="12" font-weight="bold" fill="#f4f0f0" text-anchor="middle" >-.32</text>
<text x="399.9" y="425.5" font-family="'DejaVu Sans Condensed', sans-serif" font-size="12" font-weight="bold" fill="#f4f0f0" text-anchor="middle" >-.24</text>
<text x="428.7" y="425.5" font-family="'DejaVu Sans Condensed', sans-serif" font-size="12" font-weight="bold" fill="#f4f0f0" text-anchor="middle" >-.27</text>
<text x="458.5" y="425.5" font-family="'DejaVu Sans Condensed', sans-serif" font-size="12" font-weight="bold" fill="#f4f0f0" text-anchor="middle" >-.28</text>
<text x="488.3" y="400.52" font-family="'DejaVu Sans Condensed', sans-serif" font-size="12" font-weight="bold" fill="#111" text-anchor="middle" stroke="#111" stroke-width="0.35">.04</text>
<text x="522" y="404.5" font-family="'DejaVu Sans Condensed', sans-serif" font-size="12" font-weight="bold" fill="#111" text-anchor="middle" stroke="#111" stroke-width="0.35">.21</text>
<text x="556.2" y="404.5" font-family="'DejaVu Sans Condensed', sans-serif" font-size="12" font-weight="bold" fill="#111" text-anchor="middle" stroke="#111" stroke-width="0.35">.33</text>
<text x="591.4" y="404.5" font-family="'DejaVu Sans Condensed', sans-serif" font-size="12" font-weight="bold" fill="#111" text-anchor="middle" stroke="#111" stroke-width="0.35">.44</text>
<text x="625.5" y="404.5" font-family="'DejaVu Sans Condensed', sans-serif" font-size="12" font-weight="bold" fill="#111" text-anchor="middle" stroke="#111" stroke-width="0.35">.46</text>
<text x="659" y="404.5" font-family="'DejaVu Sans Condensed', sans-serif" font-size="12" font-weight="bold" fill="#111" text-anchor="middle" stroke="#111" stroke-width="0.35">.52</text>
<text x="693.9" y="404.5" font-family="'DejaVu Sans Condensed', sans-serif" font-size="12" font-weight="bold" fill="#111" text-anchor="middle" stroke="#111" stroke-width="0.35">.49</text>
<text x="727.8" y="404.5" font-family="'DejaVu Sans Condensed', sans-serif" font-size="12" font-weight="bold" fill="#111" text-anchor="middle" stroke="#111" stroke-width="0.35">.48</text>
<text x="762.5" y="404.5" font-family="'DejaVu Sans Condensed', sans-serif" font-size="12" font-weight="bold" fill="#111" text-anchor="middle" stroke="#111" stroke-width="0.35">.49</text>
<text x="796.6" y="404.5" font-family="'DejaVu Sans Condensed', sans-serif" font-size="12" font-weight="bold" fill="#111" text-anchor="middle" stroke="#111" stroke-width="0.35">.52</text>
<text x="60.5" y="368.8" font-family="'DejaVu Sans Condensed', sans-serif" font-size="12" font-weight="bold" fill="#149a14" text-anchor="middle" stroke="#149a14" stroke-width="0.35">+0.16</text>
<text x="93" y="342.8" font-family="'DejaVu Sans Condensed', sans-serif" font-size="12" font-weight="bold" fill="#149a14" text-anchor="middle" stroke="#149a14" stroke-width="0.35">+0.15</text>
<text x="122.9" y="257.6" font-family="'DejaVu Sans Condensed', sans-serif" font-size="12" font-weight="bold" fill="#149a14" text-anchor="middle" stroke="#149a14" stroke-width="0.35">+0,49</text>
<text x="157.5" y="355.1" font-family="'DejaVu Sans Condensed', sans-serif" font-size="12" font-weight="bold" fill="#a01010" text-anchor="middle" stroke="#a01010" stroke-width="0.35">-0.06</text>
<text x="183" y="382.2" font-family="'DejaVu Sans Condensed', sans-serif" font-size="12" font-weight="bold" fill="#a01010" text-anchor="middle" stroke="#a01010" stroke-width="0.35">-0.13</text>
<text x="214.5" y="379.90000000000003" font-family="'DejaVu Sans Condensed', sans-serif" font-size="12" font-weight="bold" fill="#149a14" text-anchor="middle" stroke="#149a14" stroke-width="0.35">+0.05</text>
<text x="246.5" y="379.5" font-family="'DejaVu Sans Condensed', sans-serif" font-size="12" font-weight="bold" fill="#a01010" text-anchor="middle" stroke="#a01010" stroke-width="0.35">-0.09</text>
<text x="276.9" y="446.90000000000003" font-family="'DejaVu Sans Condensed', sans-serif" font-size="12" font-weight="bold" fill="#a01010" text-anchor="middle" stroke="#a01010" stroke-width="0.35">-0.15</text>
<text x="304.7" y="455.0" font-family="'DejaVu Sans Condensed', sans-serif" font-size="12" font-weight="bold" fill="#a01010" text-anchor="middle" stroke="#a01010" stroke-width="0.35">-0.11</text>
<text x="335.7" y="471.8" font-family="'DejaVu Sans Condensed', sans-serif" font-size="12" font-weight="bold" fill="#a01010" text-anchor="middle" stroke="#a01010" stroke-width="0.35">-0.10</text>
<text x="365.6" y="476.90000000000003" font-family="'DejaVu Sans Condensed', sans-serif" font-size="12" font-weight="bold" fill="#a01010" text-anchor="middle" stroke="#a01010" stroke-width="0.35">-0.12</text>
<text x="399" y="464.40000000000003" font-family="'DejaVu Sans Condensed', sans-serif" font-size="12" font-weight="bold" fill="#a01010" text-anchor="middle" stroke="#a01010" stroke-width="0.35">-0.006</text>
<text x="428.7" y="468.3" font-family="'DejaVu Sans Condensed', sans-serif" font-size="12" font-weight="bold" fill="#a01010" text-anchor="middle" stroke="#a01010" stroke-width="0.35">-0.07</text>
<text x="458.3" y="469.90000000000003" font-family="'DejaVu Sans Condensed', sans-serif" font-size="12" font-weight="bold" fill="#a01010" text-anchor="middle" stroke="#a01010" stroke-width="0.35">-0.09</text>
<text x="490" y="384.8" font-family="'DejaVu Sans Condensed', sans-serif" font-size="12" font-weight="bold" fill="#149a14" text-anchor="middle" stroke="#149a14" stroke-width="0.35">+0.02</text>
<text x="58.5" y="487.3" font-family="'DejaVu Sans', sans-serif" font-size="11.5" font-weight="normal" fill="#111" text-anchor="middle" stroke="#111" stroke-width="0.25">Q1</text>
<text x="91.3" y="487.3" font-family="'DejaVu Sans', sans-serif" font-size="11.5" font-weight="normal" fill="#111" text-anchor="middle" stroke="#111" stroke-width="0.25">Q2</text>
<text x="121.1" y="487.3" font-family="'DejaVu Sans', sans-serif" font-size="11.5" font-weight="normal" fill="#111" text-anchor="middle" stroke="#111" stroke-width="0.25">Q3</text>
<text x="156.6" y="487.3" font-family="'DejaVu Sans', sans-serif" font-size="11.5" font-weight="normal" fill="#111" text-anchor="middle" stroke="#111" stroke-width="0.25">Q4</text>
<text x="180.5" y="487.3" font-family="'DejaVu Sans', sans-serif" font-size="11.5" font-weight="normal" fill="#111" text-anchor="middle" stroke="#111" stroke-width="0.25">Q1</text>
<text x="212.1" y="487.3" font-family="'DejaVu Sans', sans-serif" font-size="11.5" font-weight="normal" fill="#111" text-anchor="middle" stroke="#111" stroke-width="0.25">Q2</text>
<text x="243" y="487.3" font-family="'DejaVu Sans', sans-serif" font-size="11.5" font-weight="normal" fill="#111" text-anchor="middle" stroke="#111" stroke-width="0.25">Q3</text>
<text x="275.5" y="487.3" font-family="'DejaVu Sans', sans-serif" font-size="11.5" font-weight="normal" fill="#111" text-anchor="middle" stroke="#111" stroke-width="0.25">Q4</text>
<text x="304.5" y="487.3" font-family="'DejaVu Sans', sans-serif" font-size="11.5" font-weight="normal" fill="#111" text-anchor="middle" stroke="#111" stroke-width="0.25">Q1</text>
<text x="334.2" y="487.3" font-family="'DejaVu Sans', sans-serif" font-size="11.5" font-weight="normal" fill="#111" text-anchor="middle" stroke="#111" stroke-width="0.25">Q2</text>
<text x="364" y="487.3" font-family="'DejaVu Sans', sans-serif" font-size="11.5" font-weight="normal" fill="#111" text-anchor="middle" stroke="#111" stroke-width="0.25">Q3</text>
<text x="398.3" y="487.3" font-family="'DejaVu Sans', sans-serif" font-size="11.5" font-weight="normal" fill="#111" text-anchor="middle" stroke="#111" stroke-width="0.25">Q4</text>
<text x="426.6" y="487.3" font-family="'DejaVu Sans', sans-serif" font-size="11.5" font-weight="normal" fill="#111" text-anchor="middle" stroke="#111" stroke-width="0.25">Q1</text>
<text x="456.7" y="487.3" font-family="'DejaVu Sans', sans-serif" font-size="11.5" font-weight="normal" fill="#111" text-anchor="middle" stroke="#111" stroke-width="0.25">Q2</text>
<text x="488" y="487.3" font-family="'DejaVu Sans', sans-serif" font-size="11.5" font-weight="normal" fill="#111" text-anchor="middle" stroke="#111" stroke-width="0.25">Q3</text>
<text x="521.8" y="487.3" font-family="'DejaVu Sans', sans-serif" font-size="11.5" font-weight="normal" fill="#111" text-anchor="middle" stroke="#111" stroke-width="0.25">Q4</text>
<text x="555.2" y="487.3" font-family="'DejaVu Sans', sans-serif" font-size="11.5" font-weight="normal" fill="#111" text-anchor="middle" stroke="#111" stroke-width="0.25">Q1</text>
<text x="590.3" y="487.3" font-family="'DejaVu Sans', sans-serif" font-size="11.5" font-weight="normal" fill="#111" text-anchor="middle" stroke="#111" stroke-width="0.25">Q2</text>
<text x="624.3" y="487.3" font-family="'DejaVu Sans', sans-serif" font-size="11.5" font-weight="normal" fill="#111" text-anchor="middle" stroke="#111" stroke-width="0.25">Q3</text>
<text x="658.5" y="487.3" font-family="'DejaVu Sans', sans-serif" font-size="11.5" font-weight="normal" fill="#111" text-anchor="middle" stroke="#111" stroke-width="0.25">Q4</text>
<text x="692.7" y="487.3" font-family="'DejaVu Sans', sans-serif" font-size="11.5" font-weight="normal" fill="#111" text-anchor="middle" stroke="#111" stroke-width="0.25">Q1</text>
<text x="727.1" y="487.3" font-family="'DejaVu Sans', sans-serif" font-size="11.5" font-weight="normal" fill="#111" text-anchor="middle" stroke="#111" stroke-width="0.25">Q2</text>
<text x="760.9" y="487.3" font-family="'DejaVu Sans', sans-serif" font-size="11.5" font-weight="normal" fill="#111" text-anchor="middle" stroke="#111" stroke-width="0.25">Q3</text>
<text x="796.2" y="487.3" font-family="'DejaVu Sans', sans-serif" font-size="11.5" font-weight="normal" fill="#111" text-anchor="middle" stroke="#111" stroke-width="0.25">Q4</text>
<rect x="879.5" y="203" width="1" height="288" fill="#d0d6e0"/>
<rect x="18" y="491.5" width="957.5" height="21" fill="#d2d5da"/>
<rect x="18" y="491" width="957.5" height="1.3" fill="#b0bccc"/>
<rect x="18" y="511.8" width="957.5" height="1.3" fill="#b0bccc"/>
<text x="63.4" y="506.9" font-family="'Liberation Sans', sans-serif" font-size="14" font-weight="bold" fill="#111" text-anchor="middle" stroke="#111" stroke-width="0.3">2010</text>
<text x="186.4" y="506.9" font-family="'Liberation Sans', sans-serif" font-size="14" font-weight="bold" fill="#111" text-anchor="middle" stroke="#111" stroke-width="0.3">2011</text>
<text x="308" y="506.9" font-family="'Liberation Sans', sans-serif" font-size="14" font-weight="bold" fill="#111" text-anchor="middle" stroke="#111" stroke-width="0.3">2012</text>
<text x="431" y="506.9" font-family="'Liberation Sans', sans-serif" font-size="14" font-weight="bold" fill="#111" text-anchor="middle" stroke="#111" stroke-width="0.3">2013</text>
<text x="555" y="506.9" font-family="'Liberation Sans', sans-serif" font-size="14" font-weight="bold" fill="#111" text-anchor="middle" stroke="#111" stroke-width="0.3">2014</text>
<text x="676.8" y="506.9" font-family="'Liberation Sans', sans-serif" font-size="14" font-weight="bold" fill="#111" text-anchor="middle" stroke="#111" stroke-width="0.3">2015</text>
<text x="800.2" y="506.9" font-family="'Liberation Sans', sans-serif" font-size="14" font-weight="bold" fill="#111" text-anchor="middle" stroke="#111" stroke-width="0.3">2016</text>
<rect x="17.5" y="202.5" width="958" height="310" fill="none" stroke="#aab8d0" stroke-width="1"/>
<text x="884" y="214.5" font-family="'Liberation Sans', sans-serif" font-size="12" font-weight="bold" fill="#111" text-anchor="start" stroke="#111" stroke-width="0.3">EPS</text>
<text x="931" y="214.5" font-family="'Liberation Sans', sans-serif" font-size="13.3" font-weight="bold" fill="#111" text-anchor="start" stroke="#111" stroke-width="0.3">Price</text>
<text x="884" y="252.3" font-family="'Liberation Sans', sans-serif" font-size="13.5" font-weight="bold" fill="#111" text-anchor="start" stroke="#111" stroke-width="0.3" letter-spacing="0.2">1.00</text>
<text x="884" y="292.6" font-family="'Liberation Sans', sans-serif" font-size="13.5" font-weight="bold" fill="#111" text-anchor="start" stroke="#111" stroke-width="0.3" letter-spacing="0.2">0.75</text>
<text x="884" y="332.5" font-family="'Liberation Sans', sans-serif" font-size="13.5" font-weight="bold" fill="#111" text-anchor="start" stroke="#111" stroke-width="0.3" letter-spacing="0.2">0.50</text>
<text x="884" y="373.8" font-family="'Liberation Sans', sans-serif" font-size="13.5" font-weight="bold" fill="#111" text-anchor="start" stroke="#111" stroke-width="0.3" letter-spacing="0.2">0.25</text>
<text x="884" y="414.3" font-family="'Liberation Sans', sans-serif" font-size="13.5" font-weight="bold" fill="#111" text-anchor="start" stroke="#111" stroke-width="0.3" letter-spacing="0.2">0.00</text>
<text x="884" y="454.8" font-family="'Liberation Sans', sans-serif" font-size="13.5" font-weight="bold" fill="#111" text-anchor="start" stroke="#111" stroke-width="0.3" letter-spacing="0.2">-0.25</text>
<text x="972" y="259.4" font-family="'Liberation Sans', sans-serif" font-size="14" font-weight="bold" fill="#111" text-anchor="end" stroke="#111" stroke-width="0.3">$14.00</text>
<text x="972" y="305.8" font-family="'Liberation Sans', sans-serif" font-size="14" font-weight="bold" fill="#111" text-anchor="end" stroke="#111" stroke-width="0.3">$12.00</text>
<text x="972" y="354.2" font-family="'Liberation Sans', sans-serif" font-size="14" font-weight="bold" fill="#111" text-anchor="end" stroke="#111" stroke-width="0.3">$10.00</text>
<text x="972" y="402.2" font-family="'Liberation Sans', sans-serif" font-size="14" font-weight="bold" fill="#111" text-anchor="end" stroke="#111" stroke-width="0.3">$8.00</text>
<text x="972" y="448.7" font-family="'Liberation Sans', sans-serif" font-size="14" font-weight="bold" fill="#111" text-anchor="end" stroke="#111" stroke-width="0.3">$6.00</text>
</svg></body></html>
